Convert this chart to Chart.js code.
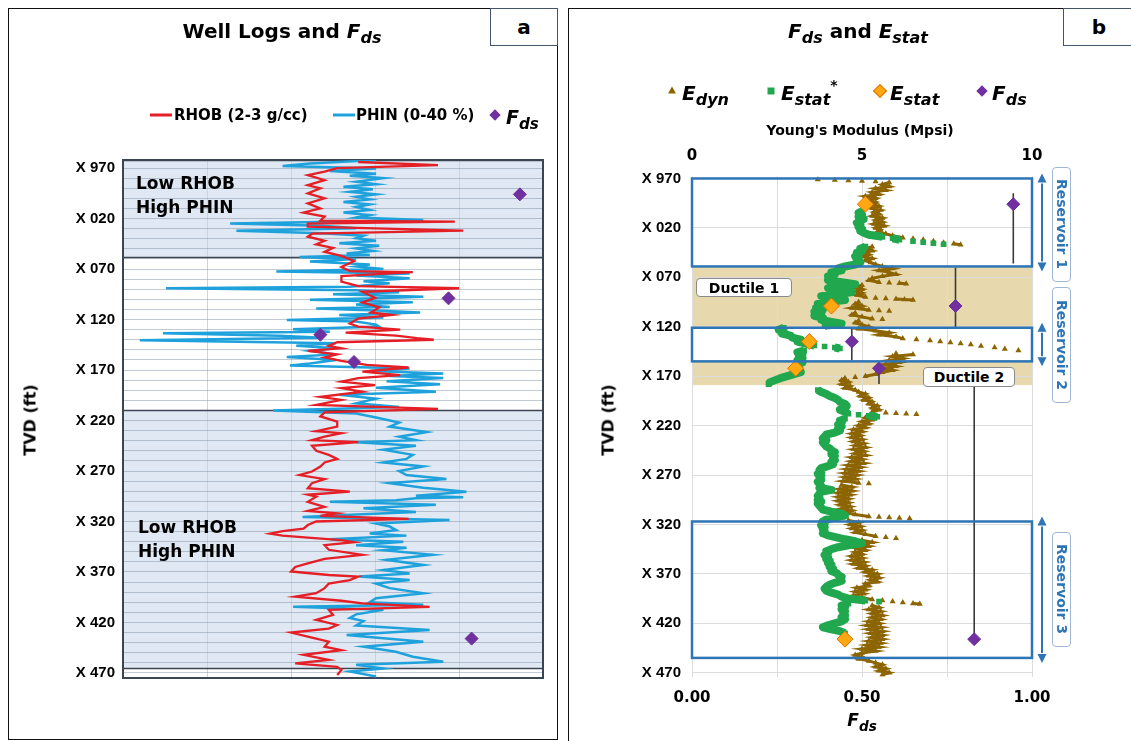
<!DOCTYPE html>
<html>
<head>
<meta charset="utf-8">
<title>Well Logs and Fds</title>
<script src="https://cdn.jsdelivr.net/npm/chart.js@4.4.1/dist/chart.umd.min.js"></script>
<style>
  body { margin: 0; width: 1131px; height: 741px; background: #fff; position: relative; overflow: hidden;
         font-family: "DejaVu Sans", sans-serif; color: #000; }
  .frame { position: absolute; border: 1.5px solid #111; box-sizing: border-box; }
  .tag { position: absolute; border: 1px solid #44546a; background: #fff; box-sizing: border-box;
         font: bold 20px "DejaVu Sans"; display: flex; align-items: center; justify-content: center; }
  canvas { position: absolute; }
  .t { position: absolute; white-space: nowrap; font-weight: bold; transform: translateY(-50%); }
  .c { transform: translate(-50%, -50%); }
  .rot { transform: translate(-50%, -50%) rotate(-90deg); }
  sub { font-size: 0.8em; vertical-align: -0.34em; line-height: 0; }
  sup { font-size: 0.7em; vertical-align: 0.75em; line-height: 0; }
  .mk { position: absolute; transform: translate(-50%, -50%); }
  .box { position: absolute; background: #fff; border: 1.5px solid #8a8a8a; border-radius: 4px; box-sizing: border-box;
         font: bold 14px "DejaVu Sans"; display: flex; align-items: center; justify-content: center; }
  .res { position: absolute; background: #fff; border: 1.5px solid #9fb7d4; border-radius: 4px; box-sizing: border-box;
         font: bold 14px "DejaVu Sans"; color: #2e75b6; writing-mode: vertical-rl;
         display: flex; align-items: center; justify-content: center; }
</style>
</head>
<body>

<div class="frame" style="left:8px;top:8px;width:550px;height:732px;"></div>
<div class="frame" style="left:568px;top:8px;width:575px;height:740px;"></div>

<canvas id="logs" width="547" height="730" style="left:9px;top:9px;"></canvas>
<canvas id="modulus" width="562" height="732" style="left:569px;top:9px;"></canvas>

<div class="tag" style="left:490px;top:8px;width:68px;height:38px;">a</div>
<div class="tag" style="left:1063px;top:8px;width:72px;height:38px;">b</div>

<!-- panel a texts -->
<div class="t c" style="left:282px;top:31px;font-size:20px;">Well Logs and <i>F<sub>ds</sub></i></div>
<span class="mk" style="left:161px;top:115px;width:22px;height:3px;background:#e41f26;"></span>
<div class="t" style="left:174px;top:115px;font-size:15px;">RHOB (2-3 g/cc)</div>
<span class="mk" style="left:344px;top:115px;width:22px;height:3px;background:#1fa2dc;"></span>
<div class="t" style="left:356px;top:115px;font-size:15px;">PHIN (0-40 %)</div>
<span class="mk" style="left:495px;top:115px;width:8px;height:8px;background:#7030a0;transform:translate(-50%,-50%) rotate(45deg);"></span>
<div class="t" style="left:506px;top:117px;font-size:19px;"><i>F<sub>ds</sub></i></div>
<div class="t" style="left:136px;top:195px;font-size:17px;line-height:24px;">Low RHOB<br>High PHIN</div>
<div class="t" style="left:138px;top:539px;font-size:17px;line-height:24px;">Low RHOB<br>High PHIN</div>
<div class="t rot" style="left:30px;top:420px;font-size:16px;">TVD (ft)</div>

<!-- panel b texts -->
<div class="t c" style="left:858px;top:31px;font-size:20px;"><i>F<sub>ds</sub></i> and <i>E<sub>stat</sub></i></div>
<span class="mk" style="left:672px;top:90px;width:0;height:0;border-left:4px solid transparent;border-right:4px solid transparent;border-bottom:7px solid #8c6400;"></span>
<div class="t" style="left:682px;top:93px;font-size:20px;"><i>E<sub>dyn</sub></i></div>
<span class="mk" style="left:771px;top:91px;width:7px;height:7px;background:#21a84f;"></span>
<div class="t" style="left:781px;top:93px;font-size:20px;"><i>E<sub>stat</sub></i><sup>*</sup></div>
<span class="mk" style="left:880px;top:91px;width:8px;height:8px;background:#ffa812;border:1px solid #e07000;transform:translate(-50%,-50%) rotate(45deg);"></span>
<div class="t" style="left:890px;top:93px;font-size:20px;"><i>E<sub>stat</sub></i></div>
<span class="mk" style="left:982px;top:91px;width:8px;height:8px;background:#7030a0;transform:translate(-50%,-50%) rotate(45deg);"></span>
<div class="t" style="left:992px;top:93px;font-size:20px;"><i>F<sub>ds</sub></i></div>
<div class="t c" style="left:860px;top:130px;font-size:14px;">Young's Modulus (Mpsi)</div>
<div class="t c" style="left:862px;top:720px;font-size:17px;"><i>F<sub>ds</sub></i></div>
<div class="t rot" style="left:608px;top:420px;font-size:16px;">TVD (ft)</div>
<div class="box" style="left:696px;top:278px;width:96px;height:19px;">Ductile 1</div>
<div class="box" style="left:923px;top:367px;width:92px;height:20px;">Ductile 2</div>
<div class="res" style="left:1052px;top:167px;width:19px;height:115px;">Reservoir 1</div>
<div class="res" style="left:1052px;top:287px;width:19px;height:116px;">Reservoir 2</div>
<div class="res" style="left:1052px;top:532px;width:19px;height:115px;">Reservoir 3</div>

<script>
// depth labels every 50 ft, grid every 10 ft (TVD, ft)
const labelDepths = [970, 1020, 1070, 1120, 1170, 1220, 1270, 1320, 1370, 1420, 1470];
const gridDepths = [];
for (let d = 970; d <= 1470; d += 10) gridDepths.push(d);

// RHOB log, g/cc
const rhobDepth = [964, 967, 970, 973.5, 977, 982, 987, 990, 995, 1000, 1005, 1010, 1014, 1018, 1022, 1023, 1025, 1028, 1032, 1035,
  1038, 1042, 1045.5, 1049, 1053, 1057, 1062, 1068, 1072, 1073, 1077, 1082.5, 1087, 1089, 1092.5, 1098.5, 1103, 1108, 1113, 1115.5,
  1119, 1124, 1127, 1130, 1133, 1136, 1138.5, 1140, 1142.5, 1146, 1148.5, 1151, 1154.5, 1157.5, 1161, 1165, 1167.5, 1171.5, 1175, 1178,
  1181.5, 1185, 1188, 1191.5, 1196.5, 1199.5, 1204.5, 1208.5, 1212, 1216, 1221, 1226, 1230.5, 1232.5, 1236, 1239.5, 1241.5, 1245, 1250, 1254,
  1258, 1261.5, 1265.5, 1270.5, 1274, 1278, 1282, 1287, 1290.5, 1293.5, 1295.5, 1300.5, 1305.5, 1309.5, 1312, 1314.5, 1317.5, 1320, 1323.5, 1327,
  1329.5, 1332, 1334, 1336, 1338.5, 1340.5, 1343.5, 1348, 1353, 1357, 1361.5, 1365, 1369.5, 1373, 1374.5, 1378, 1381.5, 1386, 1391, 1394.5,
  1398.5, 1401, 1404.5, 1407.5, 1412.5, 1417.5, 1422.5, 1426, 1430, 1434, 1439, 1444, 1447.5, 1452, 1457, 1460.5, 1464, 1467, 1472];
const rhob = [2.56, 2.75, 2.51, 2.48, 2.44, 2.48, 2.44, 2.47, 2.44, 2.48, 2.44, 2.47, 2.43, 2.48, 2.47, 2.79, 2.44, 2.44, 2.81, 2.45,
  2.44, 2.48, 2.46, 2.50, 2.48, 2.52, 2.55, 2.52, 2.54, 2.69, 2.52, 2.52, 2.56, 2.80, 2.57, 2.60, 2.57, 2.61, 2.59, 2.64,
  2.56, 2.54, 2.56, 2.66, 2.53, 2.65, 2.70, 2.74, 2.51, 2.49, 2.52, 2.44, 2.51, 2.48, 2.52, 2.58, 2.68, 2.57, 2.66, 2.56,
  2.52, 2.60, 2.52, 2.57, 2.47, 2.52, 2.46, 2.75, 2.48, 2.47, 2.51, 2.51, 2.46, 2.52, 2.48, 2.45, 2.56, 2.45, 2.46, 2.49,
  2.51, 2.48, 2.47, 2.45, 2.42, 2.48, 2.45, 2.44, 2.54, 2.44, 2.46, 2.44, 2.48, 2.44, 2.51, 2.47, 2.68, 2.46, 2.44, 2.43,
  2.38, 2.35, 2.38, 2.44, 2.52, 2.55, 2.48, 2.49, 2.57, 2.48, 2.44, 2.41, 2.40, 2.49, 2.56, 2.54, 2.49, 2.48, 2.46, 2.41,
  2.52, 2.57, 2.73, 2.49, 2.50, 2.46, 2.51, 2.49, 2.40, 2.44, 2.49, 2.48, 2.52, 2.43, 2.49, 2.41, 2.51, 2.52, 2.51];

// PHIN log, %
const phinDepth = [962, 965.5, 968, 970.5, 973, 975.5, 977.5, 980, 983.5, 986, 988.5, 991, 993.5, 996, 998.5, 1001, 1003.5, 1006, 1008.5, 1011.5,
  1014, 1016.5, 1019, 1021.5, 1023, 1025, 1027, 1029.5, 1032, 1034.5, 1037, 1039.5, 1042, 1044.5, 1047, 1049.5, 1052, 1054.5, 1056, 1058,
  1060, 1062.5, 1065.5, 1067.5, 1070, 1072.5, 1074.5, 1076.5, 1079, 1082, 1084, 1087.5, 1089, 1091, 1093, 1095, 1097.5, 1099, 1100.5, 1103,
  1105, 1107.5, 1109, 1111, 1113, 1115.5, 1118, 1120.5, 1122, 1125, 1127, 1129.5, 1132, 1133.5, 1136, 1138, 1140.5, 1143.5, 1146, 1148.5,
  1151, 1154.5, 1157, 1160, 1163.5, 1165.5, 1168.5, 1171, 1173.5, 1176, 1178, 1181, 1184, 1187.5, 1191.5, 1194.5, 1198.5, 1203, 1206.5, 1210,
  1213, 1217, 1222, 1226, 1231.5, 1236, 1239.5, 1241.5, 1245, 1249, 1254, 1258, 1261.5, 1265.5, 1270, 1274, 1278, 1282, 1286.5, 1290.5,
  1294.5, 1296, 1297, 1299, 1300.5, 1303.5, 1307, 1310.5, 1313, 1315.5, 1318.5, 1322, 1325, 1328.5, 1332, 1334, 1337.5, 1340, 1343.5, 1346,
  1348.5, 1353, 1358, 1363, 1368, 1371.5, 1374.5, 1378, 1381.5, 1386, 1391, 1396, 1400, 1402.5, 1404.5, 1407.5, 1412, 1415.5, 1418.5, 1423,
  1427.5, 1432.5, 1439, 1444, 1449, 1454, 1459, 1462, 1465.5, 1468.5, 1473.5];
const phin = [24.1, 17.8, 15.2, 24.1, 19.7, 24.1, 21.6, 24.8, 22.2, 24.1, 21.0, 23.8, 21.6, 24.1, 22.2, 23.5, 21.0, 23.5, 22.2, 23.5,
  21.0, 23.5, 22.2, 28.6, 21.6, 10.2, 19.0, 22.2, 10.8, 19.0, 22.9, 22.2, 24.1, 20.6, 24.4, 22.2, 23.8, 21.3, 23.5, 16.8,
  22.2, 17.8, 23.5, 22.2, 24.8, 14.6, 27.3, 22.2, 27.3, 22.9, 25.4, 21.6, 4.1, 22.2, 26.3, 20.0, 28.6, 24.1, 17.8, 27.6,
  22.2, 25.4, 18.4, 24.1, 28.3, 20.6, 24.8, 15.6, 22.2, 24.1, 24.4, 16.2, 19.7, 3.8, 14.9, 19.0, 1.6, 20.3, 16.5, 20.3,
  17.8, 20.3, 15.6, 20.3, 17.8, 15.9, 27.3, 23.5, 30.5, 25.4, 30.5, 25.1, 30.2, 24.1, 29.8, 20.6, 24.1, 22.2, 26.3, 14.3,
  22.2, 24.1, 26.3, 25.4, 28.9, 26.3, 27.9, 22.2, 27.9, 24.8, 27.6, 27.0, 24.8, 28.6, 26.3, 27.0, 30.8, 25.4, 28.6, 32.7,
  27.9, 32.4, 27.9, 26.0, 19.7, 29.8, 22.9, 27.9, 22.2, 17.1, 31.1, 24.1, 25.4, 26.0, 23.5, 27.0, 19.7, 26.7, 22.2, 27.0,
  24.8, 29.5, 25.1, 28.6, 24.8, 27.3, 22.5, 27.3, 24.1, 25.4, 28.6, 24.1, 23.5, 28.6, 16.2, 24.8, 22.2, 21.6, 22.9, 22.2,
  29.2, 21.3, 28.6, 22.9, 26.0, 27.6, 30.5, 22.2, 24.8, 21.6, 24.1];

// low RHOB / high PHIN intervals
const lowRhobTop = [962, 1210];
const lowRhobBase = [1058, 1465];

// core points: depth, Fds, static modulus (Mpsi) and the interval each Fds covers
const coreDepth = [996, 1099, 1135, 1162, 1436];
const fds = [0.945, 0.775, 0.47, 0.55, 0.83];
const estat = [5.1, 4.1, 3.45, 3.05, 4.5];
const fdsTop = [985, 1060, 1122, 1156, 1181];
const fdsBase = [1056, 1122, 1154, 1178, 1436];

// zones in panel b
const resTop = [970, 1121, 1317];
const resBase = [1059, 1155, 1455];
const ductTop = [1059, 1155];
const ductBase = [1121, 1179];

// dynamic Young's modulus, Mpsi
const edynDepth = [971, 971.5, 972, 972.5, 973, 974, 976, 978, 980, 982, 984, 986, 988, 990, 992, 994, 996, 998, 1000, 1002,
  1004, 1006, 1008, 1010, 1012, 1014, 1016, 1018, 1020, 1022, 1024, 1026, 1028, 1030, 1031, 1032, 1033.5, 1035, 1036, 1037,
  1039, 1041, 1043, 1045, 1047, 1049, 1051, 1053, 1055, 1057, 1059, 1061, 1063, 1065, 1067, 1069, 1071, 1073, 1075, 1075.5,
  1076, 1076.5, 1078, 1080, 1082, 1084, 1086, 1088, 1090, 1091, 1091.5, 1092, 1092.5, 1093, 1095, 1097, 1099, 1101, 1103, 1103.5,
  1104, 1106, 1108, 1110, 1112, 1112.5, 1114, 1116, 1118, 1120, 1122, 1124, 1126, 1128, 1130, 1132, 1133, 1134, 1135, 1136,
  1137, 1138, 1139.5, 1141, 1142.5, 1144, 1147, 1148, 1150, 1152, 1154, 1156, 1158, 1160, 1162, 1164, 1166, 1168, 1170, 1171,
  1172, 1174, 1176, 1178, 1180, 1182, 1184, 1186, 1188, 1190, 1192, 1194, 1196, 1198, 1200, 1202, 1204, 1206, 1207, 1207.5,
  1208, 1208.5, 1210, 1212, 1214, 1216, 1218, 1220, 1222, 1224, 1226, 1228, 1230, 1232, 1234, 1236, 1238, 1240, 1242, 1244,
  1246, 1248, 1250, 1252, 1254, 1256, 1258, 1260, 1262, 1264, 1266, 1268, 1270, 1272, 1274, 1276, 1278, 1278.5, 1280, 1282,
  1284, 1286, 1288, 1290, 1292, 1294, 1296, 1298, 1300, 1302, 1304, 1306, 1308, 1310, 1312, 1312.5, 1313, 1313.5, 1314, 1316,
  1318, 1320, 1322, 1324, 1326, 1328, 1330, 1332, 1333, 1334, 1336, 1338, 1340, 1342, 1344, 1346, 1348, 1350, 1352, 1354,
  1356, 1358, 1360, 1362, 1364, 1366, 1368, 1370, 1372, 1374, 1376, 1378, 1380, 1382, 1384, 1386, 1388, 1390, 1392, 1394,
  1396, 1397, 1398, 1399, 1400, 1400.5, 1402, 1404, 1406, 1408, 1410, 1412, 1414, 1416, 1418, 1420, 1422, 1424, 1426, 1428,
  1430, 1432, 1434, 1436, 1438, 1440, 1442, 1444, 1446, 1448, 1450, 1452, 1454, 1456, 1458, 1460, 1462, 1464, 1466, 1468,
  1470, 1472];
const edyn = [3.7, 4.2, 4.6, 5.0, 5.4, 5.8, 5.6, 5.8, 5.4, 5.7, 5.3, 5.5, 5.1, 5.4, 5.2, 5.4, 5.25, 5.5, 5.3, 5.55,
  5.35, 5.5, 5.3, 5.6, 5.4, 5.6, 5.35, 5.65, 5.4, 5.55, 5.45, 5.7, 5.9, 6.2, 6.5, 6.8, 7.1, 7.4, 7.7, 7.9,
  5.3, 5.1, 5.3, 5.0, 5.2, 5.0, 5.3, 5.1, 5.25, 5.4, 5.6, 5.9, 5.5, 5.8, 6.0, 5.6, 5.3, 5.2, 5.5, 5.8,
  6.1, 6.3, 5.0, 4.8, 5.0, 4.75, 5.0, 4.85, 5.1, 5.4, 5.7, 6.0, 6.25, 6.5, 4.9, 4.8, 5.0, 4.7, 5.2, 5.5,
  5.8, 4.8, 4.7, 5.0, 5.3, 5.6, 4.9, 4.8, 5.0, 5.2, 4.9, 5.4, 5.8, 5.5, 6.0, 6.2, 6.6, 7.0, 7.3, 7.6,
  7.9, 8.2, 8.5, 8.9, 9.2, 9.6, 6.0, 6.5, 5.9, 6.2, 5.8, 6.1, 5.7, 6.0, 5.6, 5.9, 5.6, 5.4, 5.1, 4.8,
  4.5, 4.4, 4.6, 4.4, 4.65, 4.5, 4.8, 4.9, 5.1, 4.95, 5.2, 5.05, 5.3, 5.2, 5.45, 5.3, 5.5, 5.3, 5.7, 6.0,
  6.3, 6.6, 5.3, 5.1, 5.3, 5.0, 5.2, 4.9, 5.1, 4.75, 5.0, 4.7, 4.95, 4.7, 5.0, 4.75, 5.05, 4.8, 5.1, 4.75,
  5.05, 4.8, 5.1, 4.7, 5.0, 4.7, 5.05, 4.6, 4.95, 4.55, 4.9, 4.5, 4.85, 4.5, 4.8, 4.45, 4.9, 5.2, 4.4, 4.7,
  4.35, 4.7, 4.3, 4.65, 4.3, 4.6, 4.3, 4.6, 4.35, 4.65, 4.4, 4.7, 4.5, 4.8, 5.2, 5.5, 5.8, 6.1, 6.4, 4.6,
  4.9, 4.65, 4.95, 4.7, 5.0, 4.8, 5.1, 5.4, 5.7, 6.0, 5.0, 5.3, 4.9, 5.2, 4.85, 5.1, 4.8, 5.0, 4.7, 5.0,
  4.7, 5.05, 4.75, 5.1, 4.9, 5.3, 5.1, 5.45, 5.2, 5.5, 5.25, 5.45, 5.1, 5.2, 4.85, 5.1, 4.8, 5.05, 4.75, 5.0,
  5.3, 5.6, 5.9, 6.2, 6.5, 6.7, 5.3, 5.5, 5.2, 5.55, 5.3, 5.6, 5.3, 5.55, 5.2, 5.5, 5.15, 5.55, 5.2, 5.6,
  5.25, 5.6, 5.3, 5.6, 5.2, 5.55, 5.15, 5.5, 5.0, 5.4, 5.0, 4.8, 5.0, 4.9, 5.2, 5.4, 5.6, 5.4, 5.7, 5.5,
  5.8, 5.6];

// static Young's modulus from correlation, [depth ft, Mpsi]
const estatStarLog = [
  [1003, 5.0], [1005, 4.9], [1007, 5.0], [1009, 4.9], [1011, 5.05], [1013, 4.95], [1015, 4.85], [1017, 4.95], [1019, 4.9], [1021, 5.0],
  [1023, 4.95], [1025, 5.05], [1027, 5.2], [1029, 5.6], [1030.5, 5.9], [1032, 6.1], [1033.5, 6.5], [1034.5, 6.8], [1035.5, 7.1], [1036.5, 7.4],
  [1039, 5.1], [1041, 4.95], [1043, 5.0], [1045, 4.85], [1047, 4.9], [1049, 4.8], [1051, 4.9], [1053, 4.85], [1055, 4.95], [1057, 4.8],
  [1059, 4.5], [1061, 4.3], [1063, 4.4], [1065, 4.1], [1067, 4.2], [1069, 4.0], [1071, 4.1], [1073, 4.0], [1075, 4.4], [1077, 4.8],
  [1079, 4.4], [1081, 4.0], [1083, 4.3], [1085, 4.7], [1087, 4.2], [1089, 3.8], [1091, 4.1], [1093, 4.5], [1095, 4.0], [1097, 3.7],
  [1099, 3.8], [1101, 3.65], [1103, 3.85], [1105, 3.6], [1107, 3.8], [1109, 3.6], [1111, 3.85], [1113, 3.8], [1115, 4.1], [1117, 4.4],
  [1119, 3.9], [1121, 2.7], [1123, 2.55], [1125, 2.7], [1127, 2.65], [1129, 2.9], [1131, 2.95], [1133, 3.2], [1135, 3.1], [1137, 3.35],
  [1139, 3.6], [1140, 3.9], [1141, 4.2], [1142, 4.35], [1144, 3.3], [1146, 3.1], [1148, 3.25], [1150, 3.15], [1152, 3.25], [1154, 3.1],
  [1156, 3.25], [1158, 3.1], [1160, 3.15], [1162, 3.0], [1164, 3.05], [1166, 3.2], [1168, 3.0], [1170, 2.8], [1172, 2.6], [1174, 2.45],
  [1176, 2.3], [1178, 2.25], [1184, 3.7], [1186, 3.8], [1188, 3.95], [1190, 4.05], [1192, 4.2], [1194, 4.3], [1196, 4.35], [1198, 4.5],
  [1200, 4.55], [1202, 4.5], [1204, 4.35], [1206, 4.5], [1208, 4.6], [1209, 4.9], [1210, 5.2], [1211, 5.45], [1213, 4.5], [1215, 4.35],
  [1217, 4.4], [1219, 4.3], [1221, 4.4], [1223, 4.3], [1225, 4.35], [1227, 4.2], [1229, 3.95], [1231, 3.9], [1233, 3.85], [1235, 3.95],
  [1237, 3.85], [1239, 3.9], [1241, 3.95], [1243, 4.05], [1245, 4.1], [1247, 4.2], [1249, 4.1], [1251, 4.2], [1253, 4.15], [1255, 4.2],
  [1257, 4.1], [1259, 4.15], [1261, 4.0], [1263, 3.8], [1265, 3.75], [1267, 3.8], [1269, 3.7], [1271, 3.8], [1273, 3.75], [1275, 3.8],
  [1277, 3.7], [1279, 3.75], [1281, 3.8], [1283, 3.75], [1285, 4.1], [1287, 3.8], [1289, 3.75], [1291, 3.7], [1293, 3.75], [1295, 3.7],
  [1297, 3.8], [1299, 3.7], [1301, 3.75], [1303, 3.8], [1305, 3.85], [1307, 4.1], [1309, 4.4], [1311, 4.5], [1313, 4.2], [1315, 3.95],
  [1317, 3.85], [1319, 3.9], [1321, 3.8], [1323, 3.9], [1325, 3.85], [1327, 3.9], [1329, 3.85], [1331, 4.0], [1333, 4.25], [1335, 4.5],
  [1337, 4.8], [1339, 5.0], [1341, 4.6], [1343, 4.3], [1345, 4.1], [1347, 3.95], [1349, 4.0], [1351, 3.9], [1353, 4.0], [1355, 3.95],
  [1357, 4.05], [1359, 4.0], [1361, 4.1], [1363, 4.05], [1365, 4.15], [1367, 4.1], [1369, 4.25], [1371, 4.3], [1373, 4.4], [1375, 4.35],
  [1377, 4.4], [1379, 4.2], [1381, 4.05], [1383, 3.95], [1385, 3.9], [1387, 3.95], [1389, 4.1], [1391, 4.3], [1393, 4.4], [1395, 4.6],
  [1397, 5.1], [1398, 5.5], [1400, 4.6], [1402, 4.4], [1404, 4.5], [1406, 4.4], [1408, 4.5], [1410, 4.45], [1412, 4.5], [1414, 4.4],
  [1416, 4.5], [1418, 4.4], [1420, 4.2], [1422, 4.0], [1424, 3.85], [1426, 4.1], [1428, 4.35], [1430, 4.5]
];

const BOLD = 'bold';
Chart.defaults.font.family = '"DejaVu Sans", sans-serif';
Chart.defaults.color = '#000';

const pts = (ys, xs) => ys.map((y, i) => ({ x: xs[i], y: y }));
const depthLabel = v => 'X ' + String(v % 1000).padStart(3, '0');

// well log panel: shaded intervals and frame
const logZones = {
  id: 'logZones',
  beforeDraw(chart) {
    const { ctx, chartArea: a, scales: { y } } = chart;
    ctx.save();
    ctx.fillStyle = '#dfe8f3';
    lowRhobTop.forEach((t, i) => {
      const y0 = y.getPixelForValue(t), y1 = y.getPixelForValue(lowRhobBase[i]);
      ctx.fillRect(a.left, y0, a.right - a.left, y1 - y0);
    });
    ctx.restore();
  },
  beforeDatasetsDraw(chart) {
    const { ctx, chartArea: a, scales: { y } } = chart;
    ctx.save();
    ctx.strokeStyle = '#3c4652';
    ctx.lineWidth = 1.5;
    lowRhobTop.concat(lowRhobBase).forEach(d => {
      const py = Math.round(y.getPixelForValue(d)) + 0.5;
      ctx.beginPath(); ctx.moveTo(a.left, py); ctx.lineTo(a.right, py); ctx.stroke();
    });
    ctx.lineWidth = 2;
    ctx.strokeRect(a.left, a.top, a.right - a.left, a.bottom - a.top);
    ctx.restore();
  }
};

new Chart(document.getElementById('logs'), {
  type: 'scatter',
  data: {
    datasets: [
      { label: 'Fds', data: pts(coreDepth, fds), xAxisID: 'x', pointStyle: 'rectRot', pointRadius: 6.5,
        backgroundColor: '#7030a0', borderColor: '#7030a0' },
      { label: 'RHOB (2-3 g/cc)', data: pts(rhobDepth, rhob), xAxisID: 'xr', showLine: true, pointRadius: 0,
        borderColor: '#e41f26', borderWidth: 2.3 },
      { label: 'PHIN (0-40 %)', data: pts(phinDepth, phin), xAxisID: 'xp', showLine: true, pointRadius: 0,
        borderColor: '#1fa2dc', borderWidth: 2.5 }
    ]
  },
  options: {
    responsive: false, animation: false,
    layout: { padding: { left: 0, top: 151, right: 13, bottom: 61 } },
    plugins: { legend: { display: false }, tooltip: { enabled: false } },
    scales: {
      x: { type: 'linear', position: 'bottom', min: 0, max: 1,
        ticks: { display: false, stepSize: 0.2 }, grid: { color: '#cfd4da', drawTicks: false }, border: { display: false },
        afterFit: s => { s.height = 0; } },
      xr: { type: 'linear', display: false, min: 2, max: 3 },
      xp: { type: 'linear', display: false, min: 0, max: 40 },
      y: { type: 'linear', reverse: true, min: 962, max: 1475,
        afterBuildTicks: s => { s.ticks = gridDepths.map(v => ({ value: v })); },
        ticks: { autoSkip: false, padding: 8, font: { family: '"Liberation Sans"', size: 15, weight: BOLD },
          callback: v => labelDepths.includes(v) ? depthLabel(v) : '' },
        grid: { color: 'rgba(120,138,160,0.45)', drawTicks: false }, border: { display: false },
        afterFit: s => { s.width = 114; } }
    }
  },
  plugins: [logZones]
});

// modulus panel: ductile shading, reservoir boxes and arrows
const modZones = {
  id: 'modZones',
  beforeDraw(chart) {
    const { ctx, scales: { x, y } } = chart;
    ctx.save();
    ctx.fillStyle = '#e7d8ad';
    ductTop.forEach((t, i) => {
      const y0 = y.getPixelForValue(t), y1 = y.getPixelForValue(ductBase[i]);
      const x0 = x.getPixelForValue(0), x1 = x.getPixelForValue(1);
      ctx.fillRect(x0, y0, x1 - x0, y1 - y0);
    });
    ctx.restore();
  },
  afterDatasetsDraw(chart) {
    const { ctx, chartArea: a, scales: { x, y } } = chart;
    ctx.save();
    ctx.strokeStyle = '#2e75b6';
    ctx.fillStyle = '#2e75b6';
    const x0 = x.getPixelForValue(0), x1 = x.getPixelForValue(1);
    resTop.forEach((t, i) => {
      const y0 = y.getPixelForValue(t), y1 = y.getPixelForValue(resBase[i]);
      ctx.lineWidth = 2.5;
      ctx.strokeRect(x0, y0, x1 - x0, y1 - y0);
      // double-headed arrow beside the box
      const ax = a.right + 10;
      ctx.lineWidth = 2;
      ctx.beginPath(); ctx.moveTo(ax, y0 + 5); ctx.lineTo(ax, y1 - 5); ctx.stroke();
      ctx.beginPath(); ctx.moveTo(ax, y0 - 5); ctx.lineTo(ax - 4.5, y0 + 4); ctx.lineTo(ax + 4.5, y0 + 4); ctx.closePath(); ctx.fill();
      ctx.beginPath(); ctx.moveTo(ax, y1 + 5); ctx.lineTo(ax - 4.5, y1 - 4); ctx.lineTo(ax + 4.5, y1 - 4); ctx.closePath(); ctx.fill();
    });
    ctx.restore();
  }
};

// hide the jump back after a sparse excursion so those samples read as separate markers
const tailSegment = c => {
  const dx = Math.abs(c.p1.parsed.x - c.p0.parsed.x);
  const dy = Math.abs(c.p1.parsed.y - c.p0.parsed.y);
  return (dx > 0.9 || (dy < 1.6 && dx > 0.25)) ? 'rgba(0,0,0,0)' : undefined;
};

const fdsBars = fdsTop.map((t, i) => ({
  label: 'Fds interval ' + (i + 1),
  data: [{ x: fds[i], y: t }, { x: fds[i], y: fdsBase[i] }],
  xAxisID: 'x', showLine: true, pointRadius: 0, borderColor: '#3a3a3a', borderWidth: 1.6
}));

new Chart(document.getElementById('modulus'), {
  type: 'scatter',
  data: {
    datasets: [
      { label: 'Fds', data: pts(coreDepth, fds), xAxisID: 'x', pointStyle: 'rectRot', pointRadius: 6.5,
        backgroundColor: '#7030a0', borderColor: '#7030a0' },
      { label: 'Estat', data: pts(coreDepth, estat), xAxisID: 'xE', pointStyle: 'rectRot', pointRadius: 8,
        backgroundColor: '#ffa812', borderColor: '#e07000', borderWidth: 1 },
      ...fdsBars,
      { label: 'Estat*', data: estatStarLog.map(p => ({ x: p[1], y: p[0] })), xAxisID: 'xE', showLine: true,
        pointStyle: 'rect', pointRadius: 4, backgroundColor: '#21a84f', borderColor: '#21a84f', pointBorderWidth: 0,
        borderWidth: 8, borderJoinStyle: 'round', segment: { borderColor: tailSegment } },
      { label: 'Edyn', data: pts(edynDepth, edyn), xAxisID: 'xE', showLine: true,
        pointStyle: 'triangle', pointRadius: 3.5, backgroundColor: '#8c6400', borderColor: '#8c6400', pointBorderWidth: 0,
        borderWidth: 3, segment: { borderColor: tailSegment } }
    ]
  },
  options: {
    responsive: false, animation: false,
    layout: { padding: { left: 0, top: 127.5, right: 99, bottom: 24.3 } },
    plugins: { legend: { display: false }, tooltip: { enabled: false } },
    scales: {
      x: { type: 'linear', position: 'bottom', min: 0, max: 1,
        ticks: { stepSize: 0.25, padding: 12, font: { size: 15, weight: BOLD },
          callback: v => (Math.abs(v * 2 - Math.round(v * 2)) < 1e-6) ? v.toFixed(2) : '' },
        grid: { color: '#dcdcdc', drawTicks: false }, border: { display: false },
        afterFit: s => { s.height = 40; } },
      xE: { type: 'linear', position: 'top', min: 0, max: 10,
        ticks: { stepSize: 5, padding: 3, font: { size: 15, weight: BOLD } },
        grid: { display: false }, border: { display: false },
        afterFit: s => { s.height = 40; } },
      y: { type: 'linear', reverse: true, min: 968, max: 1474,
        afterBuildTicks: s => { s.ticks = labelDepths.map(v => ({ value: v })); },
        ticks: { autoSkip: false, padding: 11, font: { family: '"Liberation Sans"', size: 15, weight: BOLD },
          callback: v => depthLabel(v) },
        grid: { color: '#dcdcdc', drawTicks: false }, border: { display: false },
        afterFit: s => { s.width = 123; } }
    }
  },
  plugins: [modZones]
});
</script>
</body>
</html>
